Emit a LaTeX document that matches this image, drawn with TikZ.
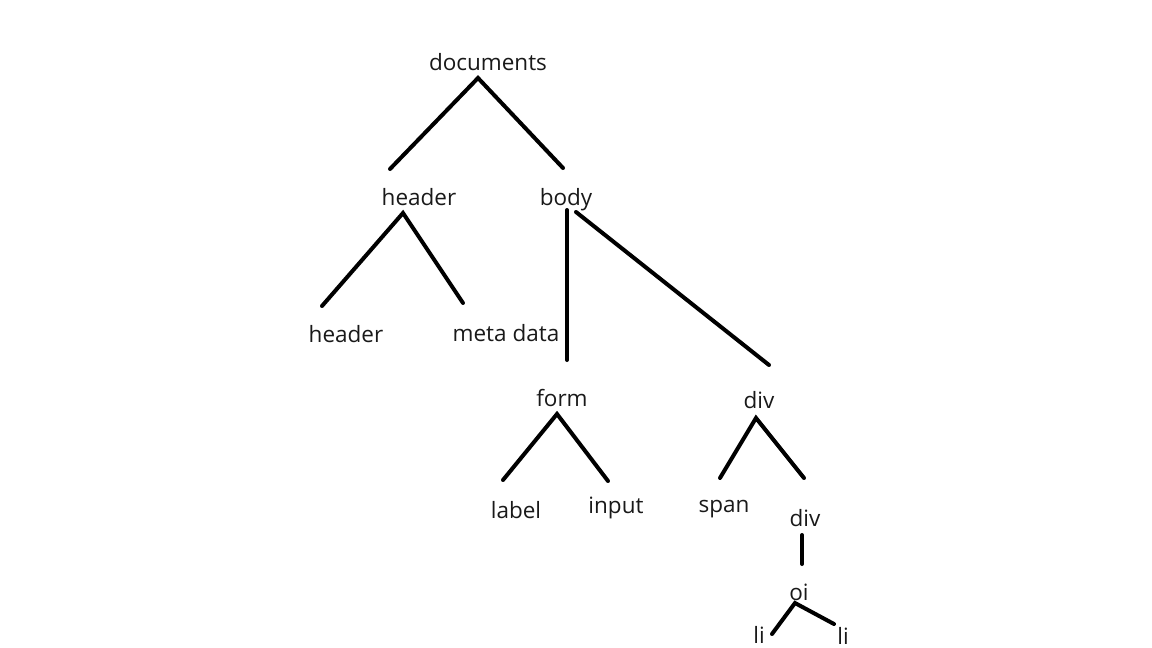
\documentclass[tikz,border=0pt]{standalone}
\usepackage{fontspec}
\setmainfont{Open Sans}
\begin{document}
\begin{tikzpicture}[x=1pt,y=-1pt,
  lbl/.style={inner sep=0pt,anchor=base,text=black!90,font=\fontsize{22.5}{26}\selectfont},
  edge/.style={line width=4pt,line cap=round,black}]
\useasboundingbox (0,0) rectangle (1152,648);
% labels (positions are baselines)
\node[lbl] (documents) at (488,70) {documents};
\node[lbl] (header1) at (419,205) {header};
\node[lbl] (body) at (566,205) {body};
\node[lbl] (header2) at (346,342) {header};
\node[lbl] (meta) at (506,341) {meta data};
\node[lbl] (form) at (562,406) {form};
\node[lbl] (div1) at (759,408) {div};
\node[lbl] (label) at (516,518) {label};
\node[lbl] (input) at (616,513) {input};
\node[lbl] (span) at (724,512) {span};
\node[lbl] (div2) at (805,526) {div};
\node[lbl] (oi) at (799,600) {oi};
\node[lbl] (li1) at (759,643) {li};
\node[lbl] (li2) at (843,644) {li};
% connector end points
\coordinate (documents-a) at (478,78);
\coordinate (header1-t) at (390,169);
\coordinate (body-t) at (563,168);
\coordinate (header1-a) at (403,213);
\coordinate (header2-t) at (322,306);
\coordinate (meta-t) at (463,303);
\coordinate (body-a) at (567,210);
\coordinate (form-t) at (567,360);
\coordinate (body-b) at (576,212);
\coordinate (div1-t) at (769,365);
\coordinate (form-a) at (557,414);
\coordinate (label-t) at (503,480);
\coordinate (input-t) at (608,481);
\coordinate (div1-a) at (756,418);
\coordinate (span-t) at (720,478);
\coordinate (div2-t) at (804,478);
\coordinate (div2-a) at (802,535);
\coordinate (oi-t) at (802,564);
\coordinate (oi-a) at (795,603);
\coordinate (li1-t) at (772,634);
\coordinate (li2-t) at (834,624);
% connectors
\draw[edge] (header1-t) -- (documents-a) -- (body-t);
\draw[edge] (header2-t) -- (header1-a) -- (meta-t);
\draw[edge] (body-a) -- (form-t);
\draw[edge] (body-b) -- (div1-t);
\draw[edge] (label-t) -- (form-a) -- (input-t);
\draw[edge] (span-t) -- (div1-a) -- (div2-t);
\draw[edge] (div2-a) -- (oi-t);
\draw[edge] (li1-t) -- (oi-a) -- (li2-t);
\end{tikzpicture}
\end{document}
